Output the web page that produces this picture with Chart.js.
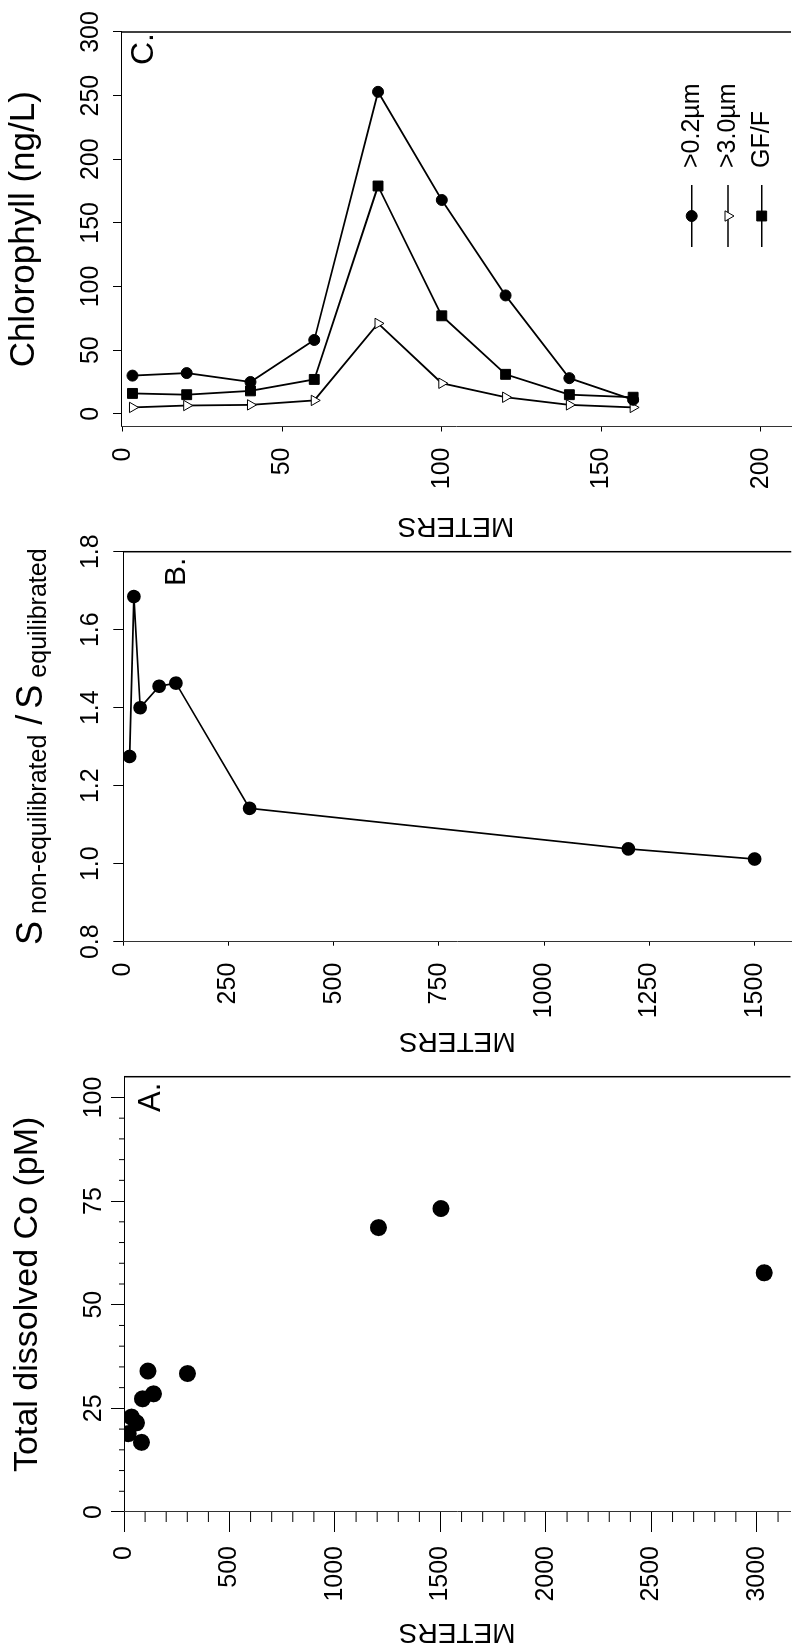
<!DOCTYPE html>
<html>
<head>
<meta charset="utf-8">
<script src="https://cdn.jsdelivr.net/npm/chart.js@4.4.1/dist/chart.umd.min.js"></script>
<style>
  html, body { margin: 0; padding: 0; background: #fff; overflow: hidden; }
  /* the figure is laid out upright, then turned a quarter to fit the page */
  #page { position: absolute; left: 0; top: 0; width: 1646px; height: 799px;
          transform-origin: 0 0; transform: translateY(1646px) rotate(-90deg); }
  #page canvas { position: absolute; left: 0; top: 0; }
</style>
</head>
<body>
<div id="page">
  <canvas id="chartA" width="1646" height="799"></canvas>
  <canvas id="chartB" width="1646" height="799"></canvas>
  <canvas id="chartC" width="1646" height="799"></canvas>
</div>
<script>
const FONT = "'Liberation Sans', Arial, Helvetica, sans-serif";

// A. total dissolved Co (pM) by depth
const depthA = [20, 36, 59, 83, 88, 114, 140, 301, 1206, 1502, 3034];
const cobaltA = [18.9, 22.9, 21.5, 16.8, 27.3, 34.0, 28.5, 33.4, 68.6, 73.2, 57.7];
const concTicksA = [0, 25, 50, 75, 100];
const depthTicksA = [0, 500, 1000, 1500, 2000, 2500, 3000];

// B. S non-equilibrated / S equilibrated by depth
const depthB = [15, 25, 40, 85, 125, 300, 1200, 1500];
const ratioB = [1.275, 1.685, 1.40, 1.455, 1.463, 1.142, 1.038, 1.012];
const concTicksB = [0.8, 1.0, 1.2, 1.4, 1.6, 1.8];
const depthTicksB = [0, 250, 500, 750, 1000, 1250, 1500];

// C. chlorophyll size fractions (ng/L) by depth
const depthC = [3, 20, 40, 60, 80, 100, 120, 140, 160];
const chl02 = [30, 32, 25, 58, 253, 168, 93, 28, 11];
const chl30 = [5, 6.5, 7, 10.5, 71, 24, 13, 7, 5];
const chlGF = [16, 15, 18, 27, 179, 77, 31, 15, 13];
const legendC = ['>0.2µm', '>3.0µm', 'GF/F'];
const concTicksC = [0, 50, 100, 150, 200, 250, 300];
const depthTicksC = [0, 50, 100, 150, 200];

const W = 1646;
const Y_W = 125; // width kept for the depth axis

Chart.defaults.font.family = FONT;
Chart.defaults.color = '#000';

const pts = (depth, vals) => depth.map((d, i) => ({ x: vals[i], y: d }));

function decor(g) {
  return {
    id: 'decor',
    afterDraw(chart) {
      const { ctx, chartArea: a, scales: { x, y } } = chart;
      ctx.save();
      ctx.strokeStyle = '#000';
      ctx.lineWidth = 1.5;
      ctx.beginPath();
      ctx.moveTo(a.right, a.top);
      ctx.lineTo(a.right, a.bottom);
      ctx.stroke();

      // minor ticks
      ctx.lineWidth = 1;
      if (g.minorConc) {
        for (let v = g.minorConc; v < g.conc[1]; v += g.minorConc) {
          if (g.concTicks.includes(v)) continue;
          const p = x.getPixelForValue(v);
          ctx.beginPath(); ctx.moveTo(p, a.top); ctx.lineTo(p, a.top - 5); ctx.stroke();
        }
      }
      if (g.minorDepth) {
        for (let v = g.minorDepth; v < g.depth[1]; v += g.minorDepth) {
          if (g.depthTicks.includes(v)) continue;
          const p = y.getPixelForValue(v);
          ctx.beginPath(); ctx.moveTo(a.left, p); ctx.lineTo(a.left - 10, p); ctx.stroke();
        }
      }

      ctx.fillStyle = '#000';
      ctx.font = g.letterSize + 'px ' + FONT;
      ctx.textAlign = 'right';
      ctx.textBaseline = 'alphabetic';
      ctx.fillText(g.letter, a.right - g.letterPos[0], a.top + g.letterPos[1]);

      if (g.after) g.after(chart);
      ctx.restore();
    }
  };
}

function makePanel(id, g) {
  return new Chart(document.getElementById(id), {
    type: 'line',
    data: { datasets: g.datasets },
    options: {
      responsive: false,
      animation: false,
      devicePixelRatio: 1,
      layout: { padding: { left: g.left - Y_W, right: W - g.right, top: 0, bottom: 0 } },
      plugins: { legend: { display: false }, tooltip: { enabled: false } },
      elements: { line: { tension: 0 } },
      scales: {
        x: {
          type: 'linear',
          position: 'top',
          min: g.conc[0],
          max: g.conc[1],
          afterBuildTicks: s => { s.ticks = g.concTicks.map(v => ({ value: v })); },
          afterFit: s => { s.height = g.top; s.paddingLeft = 0; s.paddingRight = 0; },
          grid: { drawOnChartArea: false, color: '#000', tickLength: g.concTick },
          border: { color: '#000', width: 1 },
          ticks: {
            autoSkip: false, maxRotation: 0,
            padding: g.concPad, font: { size: 25 }, color: '#000', callback: g.concFmt
          },
          title: g.concTitle
        },
        y: {
          type: 'linear',
          reverse: true,
          min: g.depth[0],
          max: g.depth[1],
          afterBuildTicks: s => { s.ticks = g.depthTicks.map(v => ({ value: v })); },
          afterFit: s => { s.width = Y_W; s.paddingTop = 0; s.paddingBottom = 0; },
          grid: { drawOnChartArea: false, color: '#000', tickLength: g.depthTick },
          border: { color: '#333', width: 1 },
          ticks: {
            autoSkip: false,
            padding: g.depthPad, font: { size: 25 }, color: '#000', callback: v => String(v)
          },
          title: { display: true, text: 'METERS', color: '#000', font: { size: 28 }, padding: { top: g.metersPad, bottom: 0 } }
        }
      }
    },
    plugins: [decor(g)]
  });
}

// A
makePanel('chartA', {
  left: 134, right: 569.3, top: 124,
  conc: [0, 105], depth: [0, 3159],
  concTicks: concTicksA, depthTicks: depthTicksA,
  concTick: 13, concPad: 2, depthTick: 20, depthPad: 14, metersPad: -12,
  minorConc: 5, minorDepth: 100,
  concFmt: v => String(v),
  concTitle: { display: true, text: 'Total dissolved Co (pM)', color: '#000', font: { size: 34 }, padding: { top: 7, bottom: 0 } },
  letter: 'A.', letterSize: 31, letterPos: [6, 36],
  datasets: [{
    data: pts(depthA, cobaltA), showLine: false,
    pointStyle: 'circle', pointRadius: 8.5, pointBackgroundColor: '#000', pointBorderColor: '#000', pointBorderWidth: 0
  }]
});

// B
makePanel('chartB', {
  left: 704.3, right: 1094.3, top: 123.3,
  conc: [0.8, 1.8], depth: [0, 1587],
  concTicks: concTicksB, depthTicks: depthTicksB,
  concTick: 10, concPad: 7, depthTick: 4, depthPad: 17, metersPad: 9,
  concFmt: v => v.toFixed(1),
  concTitle: { display: false },
  letter: 'B.', letterSize: 30, letterPos: [6, 62],
  datasets: [{
    data: pts(depthB, ratioB), borderColor: '#000', borderWidth: 1.7,
    pointStyle: 'circle', pointRadius: 6, pointBackgroundColor: '#000', pointBorderColor: '#000'
  }],
  after(chart) {
    // title with subscripts
    const { ctx, chartArea: a } = chart;
    const parts = [
      { t: 'S', size: 36, base: 42, gap: 7 },
      { t: 'non-equilibrated', size: 25, base: 46, gap: 10 },
      { t: '/', size: 36, base: 42, gap: 6 },
      { t: 'S', size: 36, base: 42, gap: 7 },
      { t: 'equilibrated', size: 25, base: 46, gap: 0 }
    ];
    let total = 0;
    parts.forEach(p => {
      ctx.font = p.size + 'px ' + FONT;
      p.w = ctx.measureText(p.t).width;
      total += p.w + p.gap;
    });
    let cx = (a.left + a.right) / 2 - total / 2;
    ctx.textAlign = 'left';
    ctx.textBaseline = 'alphabetic';
    parts.forEach(p => {
      ctx.font = p.size + 'px ' + FONT;
      ctx.fillText(p.t, cx, p.base);
      cx += p.w + p.gap;
    });
  }
});

// C
const lineStyle = { borderColor: '#000', borderWidth: 1.8, pointBorderColor: '#000', pointBorderWidth: 1 };
makePanel('chartC', {
  left: 1219.5, right: 1614, top: 121,
  conc: [-10, 300], depth: [-0.6, 209.5],
  concTicks: concTicksC, depthTicks: depthTicksC,
  concTick: 8, concPad: 7, depthTick: 5, depthPad: 16, metersPad: 9,
  concFmt: v => String(v),
  concTitle: { display: true, text: 'Chlorophyll (ng/L)', color: '#000', font: { size: 35 }, padding: { top: 3, bottom: 0 } },
  letter: 'C.', letterSize: 32, letterPos: [1, 32],
  datasets: [
    Object.assign({ label: legendC[0], data: pts(depthC, chl02), pointStyle: 'circle', pointRadius: 5.5, pointBackgroundColor: '#000' }, lineStyle),
    Object.assign({ label: legendC[1], data: pts(depthC, chl30), pointStyle: 'triangle', pointRotation: 180, pointRadius: 6, pointBackgroundColor: '#fff' }, lineStyle),
    Object.assign({ label: legendC[2], data: pts(depthC, chlGF), pointStyle: 'rect', pointRadius: 7, pointBackgroundColor: '#000' }, lineStyle)
  ],
  after(chart) {
    // legend: line sample with marker in the middle, then label
    const { ctx } = chart;
    const rows = [691.7, 728, 761.7];
    chart.data.datasets.forEach((ds, i) => {
      const yy = rows[i];
      ctx.strokeStyle = '#000';
      ctx.lineWidth = 1.6;
      ctx.beginPath(); ctx.moveTo(1399, yy); ctx.lineTo(1461, yy); ctx.stroke();
      ctx.fillStyle = ds.pointBackgroundColor;
      ctx.lineWidth = 1;
      Chart.helpers.drawPoint(ctx, { pointStyle: ds.pointStyle, radius: ds.pointRadius, rotation: ds.pointRotation || 0, borderWidth: 1 }, 1430, yy);
      ctx.fillStyle = '#000';
      ctx.font = '25px ' + FONT;
      ctx.textAlign = 'left';
      ctx.textBaseline = 'middle';
      ctx.fillText(ds.label, 1478, yy);
    });
  }
});
</script>
</body>
</html>
